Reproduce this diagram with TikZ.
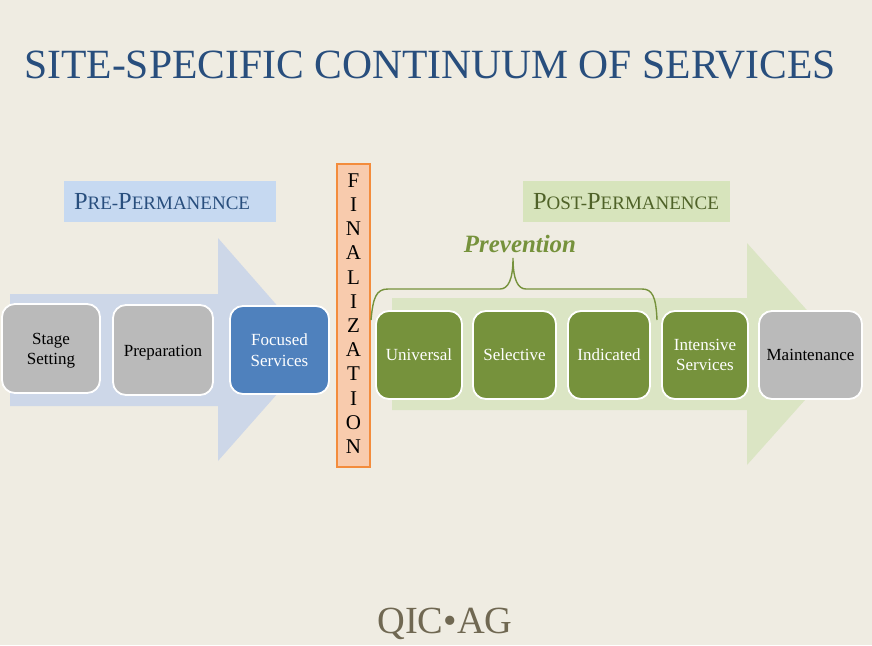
\documentclass[tikz,border=0pt]{standalone}
\usepackage{fontspec}
\usepackage{xcolor}
\setmainfont{Liberation Serif}
\definecolor{pagebg}{RGB}{239, 236, 226}
\definecolor{titleblue}{RGB}{40, 78, 125}
\definecolor{lblue}{RGB}{198, 217, 241}
\definecolor{arrowblue}{RGB}{205, 215, 232}
\definecolor{boxblue}{RGB}{79, 129, 189}
\definecolor{lgreen}{RGB}{215, 228, 188}
\definecolor{arrowgreen}{RGB}{219, 229, 196}
\definecolor{boxgreen}{RGB}{118, 146, 60}
\definecolor{darkgreen}{RGB}{79, 98, 40}
\definecolor{boxgray}{RGB}{186, 186, 186}
\definecolor{lpeach}{RGB}{248, 203, 173}
\definecolor{borange}{RGB}{243, 140, 60}
\definecolor{logobrown}{RGB}{112, 104, 82}
\newcommand{\sccap}[1]{{\fontsize{24.5}{24.5}\selectfont #1}}
\newcommand{\lowstrut}[1]{\rule{0pt}{#1}}
\tikzset{
	stagebox/.style = {rectangle, rounded corners = 13pt, draw = white, line width = 1.8pt, align = center, inner sep = 0pt, font = \fontsize{17}{20.5}\selectfont},
	graybox/.style = {stagebox, fill = boxgray, text = black},
	bluebox/.style = {stagebox, fill = boxblue, text = white},
	greenbox/.style = {stagebox, fill = boxgreen, text = white},
	banner/.style = {rectangle, inner ysep = 0pt, align = left, font = \fontsize{19}{19}\selectfont}
}
\begin{document}
\begin{tikzpicture}[x = 1pt, y = -1pt]
			\useasboundingbox (0,0) rectangle (872,645);
			\fill[pagebg] (0,0) rectangle (872,645);
			\node (title) at (430,65) [text = titleblue, font = \fontsize{41.6}{41.6}\selectfont] {SITE-SPECIFIC CONTINUUM OF SERVICES};
			% big arrows behind the boxes
			\fill[arrowblue] (10,294) -- (218,294) -- (218,238) -- (316,350) -- (218,461) -- (218,406) -- (10,406) -- cycle;
			\fill[arrowgreen] (392,298) -- (747,298) -- (747,243) -- (846,354) -- (747,465) -- (747,410) -- (392,410) -- cycle;
			\node (pre) at (170,201.5) [banner, fill = lblue, text = titleblue, inner xsep = 10pt, text width = 192pt, minimum height = 41pt] {\sccap{P}RE-\sccap{P}ERMANENCE};
			\node (post) at (626.5,201.5) [banner, fill = lgreen, text = darkgreen, inner xsep = 10pt, text width = 187pt, minimum height = 41pt] {\sccap{P}OST-\sccap{P}ERMANENCE};
			\node (stage) at (51,348.5) [graybox, minimum width = 98pt, minimum height = 89pt] {\lowstrut{16pt}Stage\\Setting};
			\node (prep) at (163,350) [graybox, minimum width = 100pt, minimum height = 90pt] {\lowstrut{16pt}Preparation};
			\node (focus) at (279.5,350) [bluebox, minimum width = 99pt, minimum height = 88pt] {Focused\\Services};
			\node (final) at (353.5,315.5) [rectangle, fill = lpeach, draw = borange, line width = 1.5pt, minimum width = 33pt, minimum height = 303pt, inner sep = 0pt, align = center, font = \fontsize{21}{24.2}\selectfont] {F\\I\\N\\A\\L\\I\\Z\\A\\T\\I\\O\\N\rule[-4pt]{0pt}{4pt}};
			\node (univ) at (419,355) [greenbox, minimum width = 86pt, minimum height = 88pt] {Universal};
			\node (sel) at (514.5,355) [greenbox, minimum width = 83pt, minimum height = 88pt] {Selective};
			\node (ind) at (609,355) [greenbox, minimum width = 82pt, minimum height = 88pt] {Indicated};
			\node (inten) at (705,355) [greenbox, minimum width = 86pt, minimum height = 88pt] {Intensive\\Services};
			\node (maint) at (810.5,355) [graybox, minimum width = 103pt, minimum height = 88pt] {Maintenance};
			\node (prev) at (520,244) [text = boxgreen, font = \fontsize{24.9}{24.9}\selectfont\bfseries\itshape] {Prevention};
			% brace over the three prevention boxes
			\coordinate (bl) at (371,320);
			\coordinate (bc) at (513,258);
			\coordinate (br) at (657,320);
			\draw[boxgreen, line width = 1.4pt] (bl) .. controls (373,298) and (376,289) .. (388,289) -- (500,289) .. controls (508,289) and (513,280) .. (bc) .. controls (513,280) and (518,289) .. (526,289) -- (642,289) .. controls (652,289) and (656,296) .. (br);
			\node (logo) at (445,624) [text = logobrown, font = \fontsize{38.4}{38.4}\selectfont] {QIC•AG};
			\end{tikzpicture}
\end{document}
